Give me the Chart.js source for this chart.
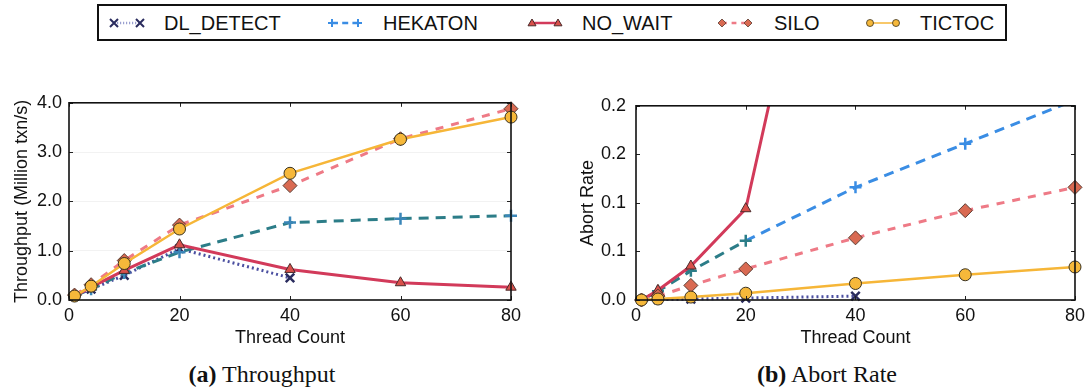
<!DOCTYPE html>
<html>
<head>
<meta charset="utf-8">
<script src="https://cdn.jsdelivr.net/npm/chart.js@4.4.1/dist/chart.umd.min.js"></script>
<style>
  body { margin: 0; width: 1090px; height: 389px; background: #fff; position: relative; overflow: hidden;
         font-family: "Liberation Sans", Arial, sans-serif; }
  #legend { position: absolute; left: 97px; top: 4px; width: 906px; height: 33px; border: 2px solid #111; }
  #legend .sym { position: absolute; top: 6px; }
  #legend .lbl { position: absolute; top: 0; line-height: 35px; font-size: 20px; color: #111; white-space: nowrap; }
  .panel { position: absolute; top: 85px; height: 265px; }
  .caption { position: absolute; top: 362px; font-family: "Liberation Serif", "Times New Roman", serif;
             font-size: 24px; line-height: 24px; color: #111; transform: translateX(-50%); white-space: nowrap; }
</style>
</head>
<body>
<div id="legend"></div>
<div class="panel" style="left:0; width:540px;"><canvas id="tputChart"></canvas></div>
<div class="panel" style="left:570px; width:520px;"><canvas id="abortChart"></canvas></div>
<div class="caption" style="left:262px;"><b>(a)</b> Throughput</div>
<div class="caption" style="left:827px;"><b>(b)</b> Abort Rate</div>

<script>
// ---- data ----
const threads = [1, 4, 10, 20, 40, 60, 80];
const dlThreads = [1, 4, 10, 20, 40];
const xTicks = [0, 20, 40, 60, 80];
const tputTicks = [0, 1, 2, 3, 4];
const tputTickLabels = ['0.0', '1.0', '2.0', '3.0', '4.0'];
const abortTicks = [0, 0.05, 0.1, 0.15, 0.2];
const abortTickLabels = ['0.0', '0.1', '0.1', '0.2', '0.2'];

// throughput (million txn/s)
const tputDlDetect = [0.08, 0.22, 0.5, 1.04, 0.45];
const tputHekaton  = [0.08, 0.22, 0.55, 0.97, 1.57, 1.65, 1.71];
const tputNoWait   = [0.08, 0.26, 0.6, 1.12, 0.62, 0.35, 0.26];
const tputSilo     = [0.1, 0.31, 0.8, 1.52, 2.32, 3.27, 3.88];
const tputTictoc   = [0.08, 0.28, 0.74, 1.44, 2.57, 3.26, 3.71];

// abort rate
const abortDlDetect = [0, 0.0005, 0.001, 0.002, 0.004];
const abortHekaton  = [0, 0.009, 0.03, 0.061, 0.116, 0.161, 0.206];
const abortNoWait   = [0, 0.01, 0.035, 0.094, 0.6];
const abortSilo     = [0, 0.004, 0.015, 0.032, 0.064, 0.092, 0.116];
const abortTictoc   = [0, 0.001, 0.003, 0.007, 0.017, 0.026, 0.034];

const seriesNames = ['DL_DETECT', 'HEKATON', 'NO_WAIT', 'SILO', 'TICTOC'];

// ---- styles ----
const TEAL = '#2c7d88';
const BLUE = '#3a8de4';
const style = {
  DL_DETECT: { line: '#4b4fa0', width: 3, dash: [2, 3], marker: 'crossRot', fill: '#2a2c5e', edge: '#2a2c5e', edgeW: 2.5, r: 6, order: 4 },
  HEKATON:   { line: BLUE, width: 3, dash: [10, 7], marker: 'cross', fill: BLUE, edge: BLUE, edgeW: 2.5, r: 6, order: 3 },
  NO_WAIT:   { line: '#d23a5a', width: 3, dash: [], marker: 'triangle', fill: '#d9504a', edge: '#4a2a2a', edgeW: 1, r: 6, order: 2 },
  SILO:      { line: '#ee7a86', width: 3, dash: [8, 8], marker: 'rectRot', fill: '#d96a52', edge: '#5a3a30', edgeW: 1, r: 7, order: 1 },
  TICTOC:    { line: '#f6b638', width: 2.5, dash: [], marker: 'circle', fill: '#f6b83a', edge: '#3a3220', edgeW: 1, r: 6, order: 0 }
};

function pts(xs, ys) {
  return ys.map((v, i) => ({ x: xs[i], y: v }));
}

function dataset(name, data, extra) {
  const s = style[name];
  return Object.assign({
    label: name,
    data,
    borderColor: s.line,
    borderWidth: s.width,
    borderDash: s.dash,
    pointStyle: s.marker,
    pointRadius: s.r,
    pointBackgroundColor: s.fill,
    pointBorderColor: s.edge,
    pointBorderWidth: s.edgeW,
    fill: false,
    tension: 0,
    order: s.order,
    clip: { left: 12, right: 12, top: 12, bottom: 12 }
  }, extra || {});
}

// ---- legend ----
const legendPos = {
  DL_DETECT: [9, 65], HEKATON: [227, 284], NO_WAIT: [427, 483], SILO: [617, 675], TICTOC: [765, 821]
};

function markerSvg(kind, cx, cy, fill, edge) {
  const r = 4;
  if (kind === 'crossRot')
    return `<path d="M${cx-r} ${cy-r}L${cx+r} ${cy+r}M${cx-r} ${cy+r}L${cx+r} ${cy-r}" stroke="${edge}" stroke-width="2"/>`;
  if (kind === 'cross')
    return `<path d="M${cx-r} ${cy}L${cx+r} ${cy}M${cx} ${cy-r}L${cx} ${cy+r}" stroke="${edge}" stroke-width="2"/>`;
  if (kind === 'triangle')
    return `<polygon points="${cx},${cy-r} ${cx+r},${cy+r*0.7} ${cx-r},${cy+r*0.7}" fill="${fill}" stroke="${edge}" stroke-width="1"/>`;
  if (kind === 'rectRot')
    return `<polygon points="${cx},${cy-r} ${cx+r},${cy} ${cx},${cy+r} ${cx-r},${cy}" fill="${fill}" stroke="${edge}" stroke-width="0.8"/>`;
  return `<circle cx="${cx}" cy="${cy}" r="${r-0.5}" fill="${fill}" stroke="${edge}" stroke-width="0.8"/>`;
}

const legendEl = document.getElementById('legend');
seriesNames.forEach(name => {
  const s = style[name];
  const [sx, tx] = legendPos[name];
  const dash = s.dash.length ? `stroke-dasharray="${s.dash.map(d => d * 0.6).join(' ')}"` : '';
  const lineW = name === 'TICTOC' ? 1.5 : 2.5;
  const svg = `<svg class="sym" style="left:${sx}px" width="38" height="22">
    <line x1="6" y1="11" x2="32" y2="11" stroke="${name === 'DL_DETECT' ? '#9aa0d0' : s.line}" stroke-width="${lineW}" ${dash}/>
    ${markerSvg(s.marker, 6, 11, s.fill, name === 'HEKATON' ? BLUE : s.edge)}
    ${markerSvg(s.marker, 32, 11, s.fill, name === 'HEKATON' ? BLUE : s.edge)}
  </svg>`;
  legendEl.insertAdjacentHTML('beforeend', svg + `<span class="lbl" style="left:${tx}px">${name}</span>`);
});

// ---- charts ----
Chart.defaults.font.family = '"Liberation Sans", Arial, sans-serif';
Chart.defaults.color = '#111';
Chart.defaults.animation = false;

// box frame and inward tick marks on all four sides
const framePlugin = {
  id: 'frame',
  afterDatasetsDraw(chart) {
    const { ctx, chartArea: a, scales: { x, y } } = chart;
    ctx.save();
    ctx.strokeStyle = '#222';
    ctx.lineWidth = 1;
    ctx.beginPath();
    x.ticks.forEach(t => {
      const px = Math.round(x.getPixelForValue(t.value)) + 0.5;
      ctx.moveTo(px, a.bottom); ctx.lineTo(px, a.bottom - 4);
      ctx.moveTo(px, a.top); ctx.lineTo(px, a.top + 4);
    });
    y.ticks.forEach(t => {
      const py = Math.round(y.getPixelForValue(t.value)) + 0.5;
      ctx.moveTo(a.left, py); ctx.lineTo(a.left + 4, py);
      ctx.moveTo(a.right, py); ctx.lineTo(a.right - 4, py);
    });
    ctx.stroke();
    ctx.lineWidth = 1.6;
    ctx.strokeStyle = '#111';
    ctx.strokeRect(a.left, a.top, a.right - a.left, a.bottom - a.top);
    ctx.restore();
  }
};

function makeChart(id, datasets, opt) {
  return new Chart(document.getElementById(id), {
    type: 'line',
    data: { datasets },
    options: {
      responsive: true,
      maintainAspectRatio: false,
      layout: { padding: { top: opt.top, right: opt.right, left: 0, bottom: 0 } },
      plugins: { legend: { display: false }, tooltip: { enabled: false } },
      scales: {
        x: {
          type: 'linear', min: 0, max: 80,
          afterBuildTicks: s => { s.ticks = xTicks.map(v => ({ value: v })); },
          afterFit: s => { s.height = 50; },
          border: { display: false },
          grid: { display: false, drawTicks: false },
          ticks: { padding: 5, font: { size: 18 }, color: '#111', maxRotation: 0 },
          title: { display: true, text: 'Thread Count', font: { size: 18 }, color: '#111', padding: { top: 0, bottom: 1 } }
        },
        y: {
          type: 'linear', min: 0, max: opt.yMax,
          afterBuildTicks: s => { s.ticks = opt.yTicks.map(v => ({ value: v })); },
          afterFit: s => { s.width = opt.yWidth; },
          border: { display: false },
          grid: {
            display: opt.yGrid, drawTicks: false,
            color: c => (c.tick.value > 0 && c.tick.value < opt.yMax) ? 'rgba(0,0,0,0.05)' : 'rgba(0,0,0,0)',
            lineWidth: 1
          },
          ticks: {
            padding: opt.yPad, font: { size: 18 }, color: '#111',
            callback: (v, i) => opt.yLabels[i]
          },
          title: { display: true, text: opt.yTitle, font: { size: 18 }, color: '#111', padding: { top: opt.titlePad, bottom: 0 } }
        }
      }
    },
    plugins: [framePlugin]
  });
}

makeChart('tputChart', [
  dataset('DL_DETECT', pts(dlThreads, tputDlDetect)),
  dataset('HEKATON', pts(threads, tputHekaton), { borderColor: TEAL, pointBorderColor: '#3a86b8', pointBackgroundColor: '#3a86b8' }),
  dataset('NO_WAIT', pts(threads, tputNoWait)),
  dataset('SILO', pts(threads, tputSilo)),
  dataset('TICTOC', pts(threads, tputTictoc))
], {
  top: 15, right: 29, yMax: 4, yTicks: tputTicks, yLabels: tputTickLabels, yWidth: 69, yPad: 7,
  yGrid: true, yTitle: 'Throughput (Million txn/s)', titlePad: 11
});

const abortClip = { left: 12, right: 12, top: 0, bottom: 12 };
makeChart('abortChart', [
  dataset('DL_DETECT', pts(dlThreads, abortDlDetect), { clip: abortClip }),
  dataset('HEKATON', pts(threads, abortHekaton), {
    clip: abortClip,
    segment: { borderColor: c => c.p1.parsed.x <= 20 ? TEAL : BLUE },
    pointBorderColor: c => (c.parsed && c.parsed.x <= 20) ? TEAL : BLUE
  }),
  dataset('NO_WAIT', pts(dlThreads, abortNoWait), { clip: abortClip }),
  dataset('SILO', pts(threads, abortSilo), { clip: abortClip }),
  dataset('TICTOC', pts(threads, abortTictoc), { clip: abortClip })
], {
  top: 16, right: 13, yMax: 0.2, yTicks: abortTicks, yLabels: abortTickLabels, yWidth: 66, yPad: 10,
  yGrid: false, yTitle: 'Abort Rate', titlePad: 7
});
</script>
</body>
</html>
